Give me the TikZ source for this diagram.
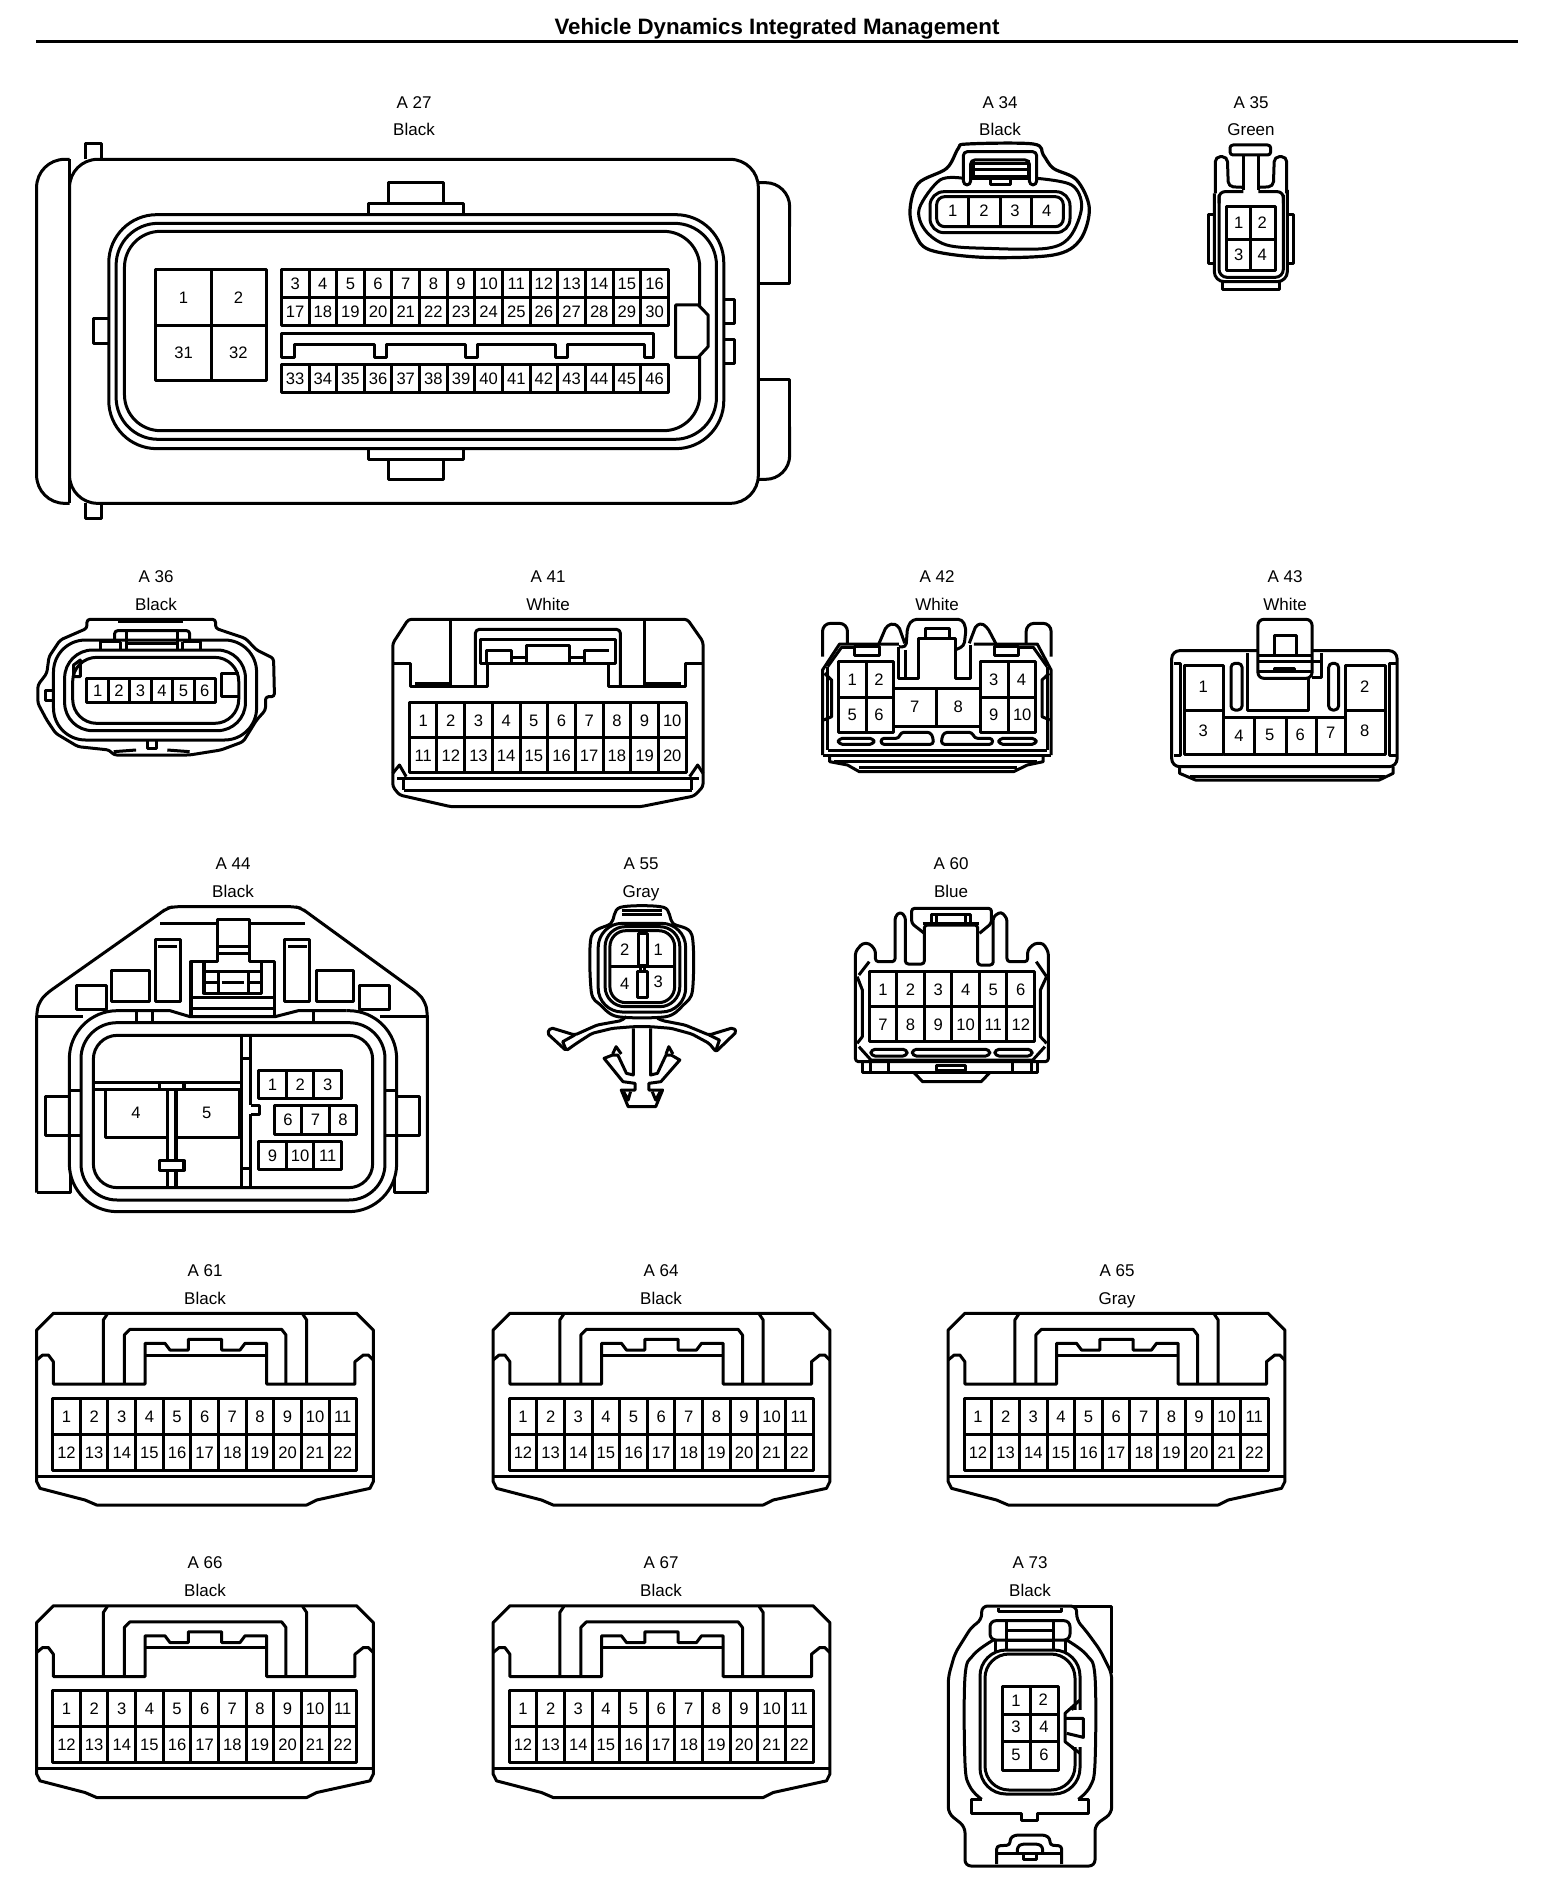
\documentclass[tikz,border=0pt]{standalone}
\usepackage{fontspec}
\setmainfont{Liberation Sans}
\newcommand{\cn}{x}
\newcommand{\cellrow}[6]{%
  \draw (#1,#3) rectangle (#2,#4);
  \foreach \i in {1,...,#5}{%
    \pgfmathsetmacro\cx{#1+(#2-#1)*(\i-0.5)/#5}
    \pgfmathtruncatemacro\lab{#6+\i-1}
    \node[pinno] (\cn-\lab) at (\cx,{(#3+#4)/2}) {\lab};
    \ifnum\i<#5 \pgfmathsetmacro\dx{#1+(#2-#1)*\i/#5}\draw (\dx,#3)--(\dx,#4);\fi
  }}
\newcommand{\pn}[3]{\node[pinno] (\cn-#3) at (#1,#2) {#3};}
\newcommand{\ttwo}[3]{%
  \renewcommand{\cn}{#3}
  \begin{scope}[shift={(#1,#2)},xscale=1/3,yscale=1/3]
    \draw (50,120)--(100,70)--(1010,70)--(1060,120)--(1060,575)--(1050,595)--(890,630)--(860,645)--(230,645)--(195,630)--(60,595)--(50,575)--cycle;
    \draw (50,558)--(1060,558);
    \draw (50,210)--(68,195)--(85,195)--(100,215)--(100,282)--(375,282)--(375,160)--(435,160)--(450,180)--(505,180)--(505,148)--(605,148)--(605,180)--(660,180)--(675,160)--(740,160)--(740,282)--(1005,282)--(1005,215)--(1030,195)--(1045,195)--(1060,210);
    \draw (375,195)--(740,195);
    \draw (250,282)--(250,90)--(262,72);
    \draw (860,282)--(860,90)--(848,72);
    \draw (313,282)--(313,135)--(330,118)--(785,118)--(798,135)--(798,282);
    \cellrow{98}{1010}{325}{432}{11}{1}
    \cellrow{98}{1010}{432}{540}{11}{12}
  \end{scope}}
\tikzset{
  pinno/.style={font=\fontsize{8.3}{10}\selectfont,inner sep=0pt,text height=6pt,text depth=0pt},
  lbl/.style={font=\fontsize{8.5}{10}\selectfont,inner sep=0pt,text height=6.2pt,text depth=0pt},
  zooma/.style={shift={(0,60)},xscale=0.52296,yscale=1/3},
  zoomb/.style={shift={(880,80)},xscale=1/3,yscale=1/3},
  zoomc/.style={shift={(20,560)},xscale=0.44643,yscale=1/3},
  zoomd/.style={shift={(800,560)},xscale=0.39541,yscale=1/3},
  zoome/.style={shift={(20,890)},xscale=1/3,yscale=1/3},
  zoomf/.style={shift={(530,890)},xscale=0.34439,yscale=1/3},
  zoomh/.style={shift={(930,1590)},xscale=1/3,yscale=1/3},
}
\begin{document}
\begin{tikzpicture}[x=0.5pt,y=-0.5pt,line width=1.5pt,line join=round]
\fill[white] (0,0) rectangle (1568,1900);
\useasboundingbox (0,0) rectangle (1568,1900);
% title
\node[font=\bfseries\fontsize{11.15}{13}\selectfont,inner sep=0pt,text height=8pt,text depth=0pt] (title) at (777,27) {Vehicle Dynamics Integrated Management};
\coordinate (ruleL) at (36,41.5);
\coordinate (ruleR) at (1518,41.5);
\draw[line width=1.9pt] (ruleL)--(ruleR);
% labels
\foreach \nm/\c/\x/\y in {A 27/Black/414/102, A 34/Black/1000/102, A 35/Green/1251/102,
  A 36/Black/156/576.5, A 41/White/548/576.5, A 42/White/937/576.5, A 43/White/1285/576.5,
  A 44/Black/233/863.5, A 55/Gray/641/863.5, A 60/Blue/951/863.5,
  A 61/Black/205/1270.5, A 64/Black/661/1270.5, A 65/Gray/1117/1270.5,
  A 66/Black/205/1562.5, A 67/Black/661/1562.5, A 73/Black/1030/1562.5}{
  \node[lbl] (t\x-\y) at (\x,\y) {\nm};
  \node[lbl] (c\x-\y) at (\x,\y+27.5) {\c};
}
% ---------- A27
\renewcommand{\cn}{a27}
\begin{scope}[zooma]
 \draw (163,298)--(163,252)--(195,252)--(195,298);
 \draw (163,1330)--(163,1377)--(195,1377)--(195,1330);
 \draw[fill=white,rounded corners=14pt] (133,298) rectangle (1450,1330);
 \draw[rounded corners=14pt] (133,298)--(70,298)--(70,1330)--(133,1330);
 \draw (133,298)--(133,1330);
 \draw (704,464)--(704,430)--(886,430)--(886,464);
 \draw (742,430)--(742,368)--(848,368)--(848,430);
 \draw (704,1166)--(704,1198)--(886,1198)--(886,1166);
 \draw (742,1198)--(742,1258)--(848,1258)--(848,1198);
 \draw[rounded corners=24pt] (208,464) rectangle (1384,1166);
 \draw[rounded corners=21pt] (222,490) rectangle (1370,1138);
 \draw[rounded corners=18pt] (238,514) rectangle (1338,1112);
 \draw (208,776)--(178,776)--(178,852)--(208,852);
 \draw (1384,718)--(1404,718)--(1404,792)--(1384,792);
 \draw (1384,838)--(1404,838)--(1404,912)--(1384,912);
 \draw[fill=white] (1292,735)--(1335,735)--(1354,765)--(1354,860)--(1335,892)--(1292,892)--cycle;
 \draw[rounded corners=12pt] (1450,368)--(1510,368)--(1510,500);
 \draw (1510,480)--(1510,670)--(1450,670);
 \draw[rounded corners=12pt] (1450,1258)--(1510,1258)--(1510,1100);
 \draw (1510,1120)--(1510,958)--(1450,958);
 \draw (297,630) rectangle (510,962);
 \draw (405,630)--(405,962);
 \draw (297,797)--(510,797);
 \pn{351}{713}{1}\pn{456}{713}{2}\pn{351}{877}{31}\pn{456}{877}{32}
 \cellrow{538}{1278}{630}{712}{14}{3}
 \cellrow{538}{1278}{712}{798}{14}{17}
 \cellrow{538}{1278}{914}{998}{14}{33}
 \draw (538,820)--(1250,820)--(1250,892)--(1232,892)--(1232,855)--(1086,855)--(1086,892)--(1062,892)--(1062,855)--(914,855)--(914,892)--(890,892)--(890,855)--(740,855)--(740,892)--(716,892)--(716,855)--(564,855)--(564,892)--(538,892)--cycle;
\end{scope}
% ---------- A34, A35
\renewcommand{\cn}{a34}
\begin{scope}[zoomb]
 \draw[line width=1.6pt] plot[smooth cycle,tension=0.55] coordinates {(90,390)(115,310)(200,265)(235,205)(262,192)(460,192)(490,225)(520,265)(590,300)(628,385)(600,480)(520,525)(310,532)(150,510)(105,460)};
 \draw plot[smooth,tension=0.55] coordinates {(250,295)(180,300)(118,385)(135,450)(200,495)(320,505)(500,505)(570,470)(605,380)(575,315)(470,295)};
 \draw (330,295)--(330,315)--(390,315)--(390,295);
 \draw (270,295)--(450,295);
 \draw[rounded corners=7pt] (150,335) rectangle (570,458);
 \draw[rounded corners=4pt] (170,350) rectangle (550,440);
 \draw (265,350)--(265,440) (360,350)--(360,440) (455,350)--(455,440);
 \pn{218}{392}{1}\pn{312}{392}{2}\pn{405}{392}{3}\pn{500}{392}{4}
 \draw[fill=white,rounded corners=2pt] (250,315)--(250,215)--(470,215)--(470,315)--(448,315)--(448,240)--(272,240)--(272,315)--cycle;
 \draw (280,250)--(445,250) (280,270)--(445,270) (280,290)--(445,290);
 \draw (280,240)--(280,295) (445,240)--(445,295);
\end{scope}
\renewcommand{\cn}{a35}
\begin{scope}[zoomb]
 \draw[rounded corners=1.5pt] (1050,195) rectangle (1172,225);
 \draw (1090,225)--(1090,330) (1135,225)--(1135,330);
 \draw[rounded corners=5pt] (1003,340)--(1003,605)--(1222,605)--(1222,330);
 \draw[rounded corners=4pt] (1017,345)--(1017,592)--(1210,592)--(1210,345);
 \draw[rounded corners=2.5pt] (1006,340)--(1006,230)--(1042,230)--(1045,320)--(1090,322);
 \draw[rounded corners=2.5pt] (1220,340)--(1220,230)--(1183,230)--(1180,320)--(1135,322);
 \draw[rounded corners=3pt] (1090,335)--(1017,335)--(1017,370);
 \draw[rounded corners=3pt] (1135,335)--(1210,335)--(1210,370);
 \draw (1028,605)--(1028,628)--(1198,628)--(1198,605);
 \draw (1003,405)--(985,405)--(985,550)--(1003,550);
 \draw (1222,405)--(1240,405)--(1240,550)--(1222,550);
 \draw (1040,380) rectangle (1185,572);
 \draw (1112,380)--(1112,572) (1040,478)--(1185,478);
 \pn{1076}{428}{1}\pn{1147}{428}{2}\pn{1076}{523}{3}\pn{1147}{523}{4}
\end{scope}
% ---------- A36, A41
\renewcommand{\cn}{a36}
\begin{scope}[zoomc]
 \draw[rounded corners=1.5pt] (150,205)--(150,178)--(438,178)--(438,205)--(505,235)--(530,270)--(568,295)--(570,410)--(550,410)--(550,450)--(530,480)--(500,545)--(450,570)--(380,585)--(210,585)--(200,570)--(130,560)--(80,520)--(60,480)--(40,430)--(40,375)--(60,340)--(65,290)--(90,240)--cycle;
 \draw[rounded corners=16pt] (75,240) rectangle (530,540);
 \draw[rounded corners=14pt] (100,270) rectangle (505,512);
 \draw[rounded corners=12pt] (118,292) rectangle (490,490);
 \cellrow{150}{438}{355}{427}{6}{1}
 \draw (490,340)--(452,340)--(452,410)--(490,410);
 \draw (220,185)--(365,185);
 \draw[rounded corners=1.5pt] (212,240)--(212,212)--(380,212)--(380,240);
 \draw (238,212)--(238,270) (352,212)--(352,270) (226,245)--(226,270) (365,245)--(365,270);
 \draw (180,270)--(180,245)--(226,245) (405,270)--(405,245)--(365,245) (238,250)--(352,250);
 \draw (75,392)--(58,392)--(58,422)--(75,422);
 \draw (285,540)--(285,565)--(305,565)--(305,540);
 \draw (210,575)--(260,570) (330,570)--(380,575);
 \draw (120,345)--(120,315)--(135,300)--(135,350)--(120,350);
\end{scope}
\renewcommand{\cn}{a41}
\begin{scope}[zoomc]
 \draw[rounded corners=1.5pt] (870,178)--(1495,178)--(1530,245)--(1530,680)--(1510,708)--(1390,740)--(965,740)--(850,705)--(835,680)--(835,250)--cycle;
 \draw (835,310)--(875,310)--(875,380)--(1048,380)--(1048,310);
 \draw (1530,310)--(1490,310)--(1490,380)--(1318,380)--(1318,310);
 \draw (965,180)--(965,380) (1398,180)--(1398,380);
 \draw[rounded corners=2pt] (1020,380)--(1020,208)--(1345,208)--(1345,380);
 \draw (1048,310)--(1032,310)--(1032,238)--(1335,238)--(1335,310)--(1318,310);
 \draw (1045,310)--(1320,310);
 \draw (1045,310)--(1045,272)--(1100,272)--(1100,310);
 \draw (1320,310)--(1265,310)--(1265,272)--(1320,272);
 \draw (1135,310)--(1135,255)--(1230,255)--(1230,310);
 \draw (1100,292)--(1135,292) (1230,292)--(1265,292);
 \draw (885,370)--(965,370) (1400,370)--(1480,370);
 \cellrow{872}{1492}{428}{532}{10}{1}
 \cellrow{872}{1492}{532}{638}{10}{11}
 \draw (845,655)--(1520,655) (860,690)--(1505,690) (860,655)--(860,690) (1505,655)--(1505,690);
 \draw (835,640)--(850,615)--(865,650) (1530,640)--(1518,615)--(1500,650);
\end{scope}
% ---------- A42, A43
\renewcommand{\cn}{a42}
\begin{scope}[zoomd]
 \draw (97,305) rectangle (237,518);
 \draw (167,305)--(167,518) (97,413)--(237,413);
 \pn{132}{358}{1}\pn{200}{358}{2}\pn{132}{462}{5}\pn{200}{462}{6}
 \draw (456,305) rectangle (596,518);
 \draw (526,305)--(526,518) (456,413)--(596,413);
 \pn{490}{358}{3}\pn{560}{358}{4}\pn{490}{462}{9}\pn{562}{462}{10}
 \draw (237,385) rectangle (456,498);
 \draw (345,385)--(345,498);
 \pn{290}{440}{7}\pn{400}{440}{8}
 \draw[rounded corners=4pt] (57,290)--(57,190)--(120,190)--(120,250);
 \draw[rounded corners=4pt] (572,250)--(572,190)--(635,190)--(635,290);
 \draw (57,585)--(57,330)--(100,252)--(250,252);
 \draw (635,585)--(635,330)--(600,252)--(440,252);
 \draw (57,585)--(635,585);
 \draw (70,570)--(625,570) (70,320)--(70,570) (625,320)--(625,570);
 \draw (70,320)--(105,262)--(137,262) (625,320)--(590,262)--(552,262);
 \draw (62,340)--(80,360)--(80,470)--(60,480) (630,340)--(612,360)--(612,470)--(632,480);
 \draw[rounded corners=1pt] (200,250)--(218,200)--(235,190)--(250,200)--(265,250);
 \draw[rounded corners=1pt] (428,250)--(445,197)--(460,190)--(475,205)--(495,250);
 \draw (137,258) rectangle (200,285) (492,258) rectangle (552,285);
 \draw[rounded corners=2pt] (250,260)--(268,262)--(272,200)--(285,178)--(410,178)--(420,205)--(415,258)--(392,270);
 \draw (250,260)--(250,355)--(300,355)--(300,235)--(392,235)--(392,355)--(432,355)--(432,255);
 \draw (268,270)--(268,350);
 \draw (318,235)--(318,205)--(378,205)--(378,235);
 \draw[rounded corners=2pt] (97,535) rectangle (187,553);
 \draw[rounded corners=1.5pt] (205,553)--(205,535)--(250,535)--(255,517)--(330,517)--(337,535)--(337,553)--cycle;
 \draw[rounded corners=1.5pt] (358,553)--(358,535)--(365,517)--(435,517)--(442,535)--(487,535)--(487,553)--cycle;
 \draw[rounded corners=2pt] (503,535) rectangle (597,553);
 \draw (75,585)--(75,605)--(120,615)--(150,635)--(540,635)--(575,615)--(615,605)--(615,585);
 \draw (85,605)--(600,605) (150,622)--(550,622);
\end{scope}
\renewcommand{\cn}{a43}
\begin{scope}[zoomd]
 \draw[rounded corners=4pt] (940,272) rectangle (1510,620);
 \draw (945,310)--(962,310)--(962,585)--(945,585);
 \draw (1510,310)--(1490,310)--(1490,585)--(1510,585);
 \draw (960,620)--(960,640)--(1000,660)--(1465,660)--(1500,640)--(1500,620);
 \draw (985,648)--(1480,648);
 \draw (972,315) rectangle (1072,582) (1380,315) rectangle (1480,582);
 \draw (972,450)--(1072,450) (1380,450)--(1480,450);
 \pn{1020}{378}{1}\pn{1020}{510}{3}\pn{1428}{378}{2}\pn{1428}{510}{8}
 \draw (1072,472)--(1380,472) (1072,582)--(1380,582);
 \draw (1150,472)--(1150,582) (1230,472)--(1230,582) (1305,472)--(1305,582);
 \pn{1110}{525}{4}\pn{1188}{522}{5}\pn{1265}{522}{6}\pn{1342}{518}{7}
 \draw (1132,280)--(1132,450)--(1285,450)--(1285,355);
 \draw (1320,280)--(1320,352)--(1295,352);
 \draw[fill=white,rounded corners=3pt] (1158,355)--(1158,178)--(1295,178)--(1295,355)--cycle;
 \draw (1200,285)--(1200,225)--(1255,225)--(1255,285);
 \draw (1158,285)--(1295,285) (1158,303)--(1320,303) (1158,335)--(1295,335);
 \draw (1200,335)--(1200,325)--(1250,325)--(1250,335);
 \draw[rounded corners=2pt] (1090,310) rectangle (1118,450);
 \draw[rounded corners=2pt] (1337,310) rectangle (1362,450);
\end{scope}
% ---------- A44
\renewcommand{\cn}{a44}
\begin{scope}[zoome]
 \draw[rounded corners=3pt] (50,908)--(50,365)--(58,335)--(80,310)--(420,70)--(440,55)--(460,50)--(825,50)--(845,55)--(865,70)--(1195,310)--(1215,335)--(1222,365)--(1222,908);
 \draw (50,908)--(150,908)--(150,820) (1222,908)--(1125,908)--(1125,820);
 \draw (50,380)--(190,380) (1080,380)--(1222,380);
 \fill[white,rounded corners=24pt] (148,375) rectangle (1130,965);
 \draw[rounded corners=24pt] (300,362)--(148,362)--(148,965)--(1130,965)--(1130,362)--(980,362);
 \draw (300,362)--(450,362)--(510,380)--(765,380)--(835,362)--(980,362);
 \draw[rounded corners=18pt] (183,398) rectangle (1095,930);
 \draw[rounded corners=12pt] (220,436) rectangle (1058,893);
 \draw (148,620)--(75,620)--(75,735)--(148,735);
 \draw (1130,620)--(1200,620)--(1200,735)--(1130,735);
 \draw (150,600)--(183,600) (150,735)--(183,735) (1095,600)--(1130,600) (1095,735)--(1130,735);
 \draw (170,285) rectangle (258,358) (275,240) rectangle (387,335);
 \draw (405,147) rectangle (480,335) (795,147) rectangle (870,335);
 \draw (415,170)--(470,170) (805,170)--(860,170);
 \draw (890,240) rectangle (1002,335) (1020,287) rectangle (1108,358);
 \draw (420,100)--(592,100) (688,100)--(855,100);
 \draw (513,380)--(513,215)--(592,215)--(592,87)--(688,87)--(688,215)--(765,215)--(765,380);
 \draw (592,168)--(688,168) (592,190)--(688,190);
 \draw (552,215)--(552,310)--(725,310)--(725,215) (552,245)--(725,245);
 \draw (552,278)--(595,278) (685,278)--(725,278) (595,245)--(595,308) (685,245)--(685,308) (605,278)--(672,278);
 \draw (513,322)--(765,322) (513,355)--(765,355);
 \draw (350,365)--(350,398) (398,365)--(398,398) (880,365)--(880,398);
 \draw (665,436)--(665,893) (692,436)--(692,645) (692,672)--(692,893);
 \draw (665,505)--(692,505) (665,835)--(692,835);
 \draw (692,645)--(718,645)--(718,672)--(692,672);
 \draw (222,578)--(665,578) (222,598)--(665,598) (418,578)--(418,598) (492,578)--(492,598);
 \draw (257,600)--(257,742)--(440,742) (470,742)--(658,742)--(658,600);
 \draw (442,598)--(442,812) (468,598)--(468,812) (442,840)--(442,893) (468,840)--(468,893);
 \draw (418,812) rectangle (492,840);
 \pn{348}{668}{4}\pn{560}{668}{5}
 \cellrow{716}{965}{542}{625}{3}{1}
 \cellrow{763}{1010}{647}{732}{3}{6}
 \cellrow{716}{965}{755}{838}{3}{9}
\end{scope}
% ---------- A55
\renewcommand{\cn}{a55}
\begin{scope}[zoomf]
 \draw plot[smooth cycle,tension=0.5] coordinates {(262,52)(388,52)(415,100)(470,135)(472,300)(445,345)(395,380)(255,380)(205,345)(178,305)(178,140)(235,100)};
 \draw[rounded corners=12pt] (198,100) rectangle (452,366);
 \draw[rounded corners=10pt] (218,110) rectangle (435,350);
 \draw[rounded corners=8pt] (232,122) rectangle (420,338);
 \draw (268,62)--(382,62) (268,74)--(382,74);
 \draw (235,228)--(415,228);
 \draw (315,130) rectangle (342,225);
 \draw (312,245) rectangle (342,323);
 \draw (320,228)--(320,245) (332,228)--(332,245);
 \pn{275}{178}{2}\pn{372}{178}{1}\pn{275}{280}{4}\pn{372}{275}{3}
 \draw[rounded corners=1pt] (280,380)--(265,392)--(195,405)--(130,435)--(60,413)--(50,430)--(105,482)--(135,460)--(180,430)--(240,415)--(300,410)--(350,410)--(410,415)--(470,432)--(520,460)--(540,485)--(600,425)--(590,413)--(520,435)--(450,405)--(385,392)--(370,385);
 \draw (130,435)--(95,455)--(105,480) (520,435)--(550,450)--(540,480);
 \draw (300,415)--(300,555)--(280,550)--(255,495)--(240,495)--(215,505)--(270,575)--(305,580)--(305,600)--(265,600)--(285,650)--(365,650)--(385,600)--(345,600)--(345,580)--(380,575)--(435,510)--(410,495)--(395,495)--(370,550)--(350,555)--(350,415);
 \draw (240,492)--(250,470)--(265,492) (395,492)--(403,470)--(415,492);
 \draw (272,605)--(285,630)--(292,605) (355,605)--(365,630)--(378,605);
\end{scope}
% ---------- A60
\renewcommand{\cn}{a60}
\begin{scope}[zoomf]
 \cellrow{985}{1465}{245}{350}{6}{1}
 \cellrow{985}{1465}{350}{455}{6}{7}
 \draw[rounded corners=1.5pt] (945,515)--(945,185)--(965,160)--(985,160)--(1003,180)--(1003,215)--(1060,215)--(1060,80)--(1075,65)--(1090,80)--(1090,222)--(1145,222)--(1145,105)--(1300,105)--(1300,225)--(1345,225)--(1345,80)--(1368,65)--(1385,85)--(1385,215)--(1445,215)--(1445,180)--(1465,160)--(1490,160)--(1505,185)--(1505,515)--cycle;
 \draw[rounded corners=1.5pt] (1145,130)--(1108,100)--(1108,55)--(1340,55)--(1340,100)--(1305,130);
 \draw (1165,100)--(1165,72)--(1280,72)--(1280,100) (1180,72)--(1180,100) (1265,72)--(1265,100) (1140,100)--(1305,100);
 \draw (955,255)--(985,215) (1470,215)--(1500,260);
 \draw (950,260)--(965,300)--(965,440)--(950,460) (1500,260)--(1482,300)--(1482,440)--(1500,460);
 \draw (955,470)--(990,510)--(1460,510)--(1495,470);
 \draw (965,515)--(965,548)--(1475,548)--(1475,515);
 \draw (1115,548)--(1140,575)--(1310,575)--(1335,548);
 \draw (1180,525) rectangle (1265,540);
 \draw (1040,520)--(1040,548) (1400,520)--(1400,548) (990,520)--(990,548) (1455,520)--(1455,548);
 \draw[rounded corners=2pt] (990,478) rectangle (1095,498);
 \draw[rounded corners=2pt] (1110,478) rectangle (1335,498);
 \draw[rounded corners=2pt] (1350,478) rectangle (1458,498);
\end{scope}
% ---------- 22-way
\ttwo{20}{1290}{a61}
\ttwo{476.5}{1290}{a64}
\ttwo{931.5}{1290}{a65}
\ttwo{20}{1582.5}{a66}
\ttwo{476.5}{1582.5}{a67}
% ---------- A73
\renewcommand{\cn}{a73}
\begin{scope}[zoomh]
 \draw[rounded corners=3pt] (155,90)--(155,48)--(440,48)--(440,90)--(470,125)--(510,180)--(545,250)--(545,670)--(495,705)--(495,828)--(105,828)--(105,710)--(55,670)--(55,260)--(75,190)--(125,110)--cycle;
 \draw (430,48)--(545,48)--(545,250);
 \draw (205,55)--(205,65)--(395,65)--(395,55);
 \draw plot[smooth,tension=0.6] coordinates {(190,150)(130,195)(105,260)(105,520)(120,590)(155,628)};
 \draw plot[smooth,tension=0.6] coordinates {(410,150)(470,195)(495,260)(495,520)(480,590)(445,628)};
 \draw (155,628)--(125,628)--(125,670)--(275,670)--(275,690)--(322,690)--(322,670)--(475,670)--(475,628)--(445,628);
 \draw[rounded corners=3pt,fill=white] (180,150)--(180,92)--(420,92)--(420,150)--cycle;
 \draw (230,95)--(230,180) (370,95)--(370,180) (230,120)--(370,120) (230,150)--(370,150);
 \draw (195,150)--(195,190) (405,150)--(405,190);
 \draw[fill=white,rounded corners=13pt] (150,180) rectangle (450,612);
 \draw[rounded corners=12pt] (165,192) rectangle (435,600);
 \fill[white] (425,360) rectangle (455,470);
 \draw (450,330)--(405,370)--(405,455)--(450,490);
 \draw (435,345)--(425,360) (435,480)--(425,470);
 \draw (405,385)--(460,385)--(460,442)--(410,430);
 \draw (217,290) rectangle (385,540);
 \draw (300,290)--(300,540) (217,372)--(385,372) (217,455)--(385,455);
 \pn{258}{330}{1}\pn{340}{328}{2}\pn{258}{408}{3}\pn{342}{408}{4}\pn{258}{493}{5}\pn{342}{493}{6}
 \draw[rounded corners=1.5pt] (200,822)--(200,768)--(240,765)--(240,745)--(255,735)--(345,735)--(360,745)--(360,765)--(395,768)--(395,822);
 \draw[rounded corners=1.5pt] (262,790)--(262,770)--(275,762)--(325,762)--(338,770)--(338,790);
 \draw (200,790)--(395,790);
 \draw (280,790)--(280,808)--(320,808)--(320,790);
\end{scope}
\end{tikzpicture}
\end{document}
